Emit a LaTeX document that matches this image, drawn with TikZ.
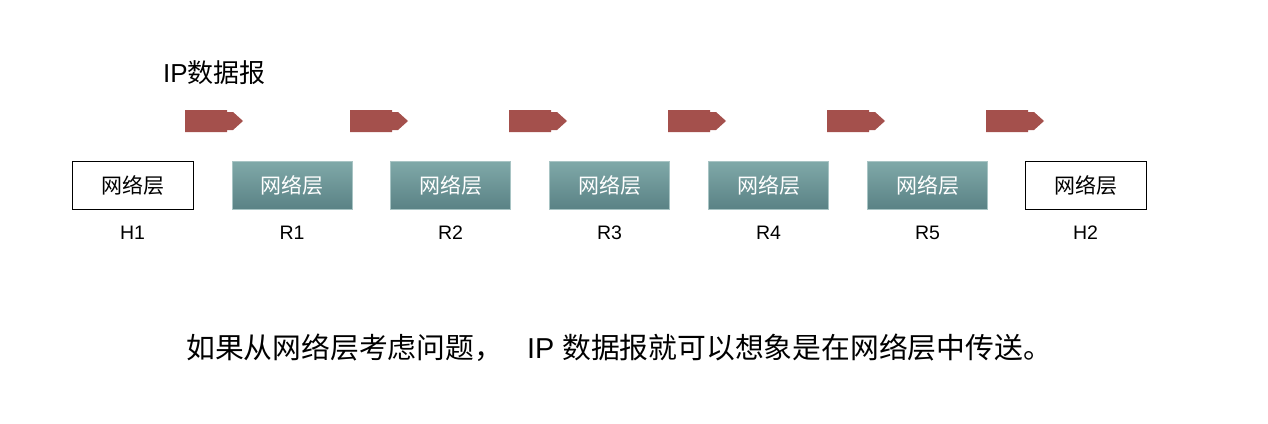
\documentclass[tikz,border=0pt]{standalone}
\usepackage{fontspec}
\setmainfont{Liberation Sans}
\newfontfamily\cjk{Noto Sans CJK SC}
\definecolor{arrowred}{HTML}{A4504C}
\definecolor{tealtop}{HTML}{80A9A9}
\definecolor{tealbot}{HTML}{5A8285}
\definecolor{tealedge}{HTML}{A8C4C4}
\begin{document}
\begin{tikzpicture}[x=1pt,y=-1pt,
  hostbox/.style={draw=black, line width=1pt, fill=white, minimum width=121pt, minimum height=48pt, inner sep=0pt, font=\cjk\fontsize{21}{24}\selectfont},
  routerbox/.style={draw=tealedge, line width=0.6pt, top color=tealtop, bottom color=tealbot, minimum width=120pt, minimum height=48pt, inner sep=0pt, text=white, font=\cjk\fontsize{21}{24}\selectfont},
  namelabel/.style={font=\fontsize{19.5}{22}\selectfont, inner sep=0pt},
  pkt/.style={fill=arrowred, draw=none}]
\useasboundingbox (0,0) rectangle (1268,423);

\node[inner sep=0pt, anchor=west] (title) at (163,73) {\fontsize{26}{30}\selectfont IP{\cjk 数据报}};

\node[hostbox]   (h1) at (132.5,185) {网络层};
\node[routerbox] (r1) at (292,185)   {网络层};
\node[routerbox] (r2) at (450.5,185) {网络层};
\node[routerbox] (r3) at (609.5,185) {网络层};
\node[routerbox] (r4) at (768.5,185) {网络层};
\node[routerbox] (r5) at (927.5,185) {网络层};
\node[hostbox]   (h2) at (1085.5,185) {网络层};

\node[namelabel] (lh1) at (132.5,233) {H1};
\node[namelabel] (lr1) at (292,233) {R1};
\node[namelabel] (lr2) at (450.5,233) {R2};
\node[namelabel] (lr3) at (609.5,233) {R3};
\node[namelabel] (lr4) at (768.5,233) {R4};
\node[namelabel] (lr5) at (927.5,233) {R5};
\node[namelabel] (lh2) at (1085.5,233) {H2};

\foreach \x in {185,350,509,668,827,986}{
  \fill[arrowred] (\x,110) -- ++(42,0) -- ++(0,2) -- ++(6,0) -- ++(10,9) -- ++(-10,9) -- ++(-6,0) -- ++(0,2) -- (\x,132) -- cycle;
}

\node[inner sep=0pt, anchor=west] (caption) at (186,348)
  {\fontsize{28.8}{34}\selectfont{\cjk 如果从网络层考虑问题，}\hspace{24pt}IP {\cjk 数据报就可以想象是在网络层中传送。}};
\end{tikzpicture}
\end{document}
